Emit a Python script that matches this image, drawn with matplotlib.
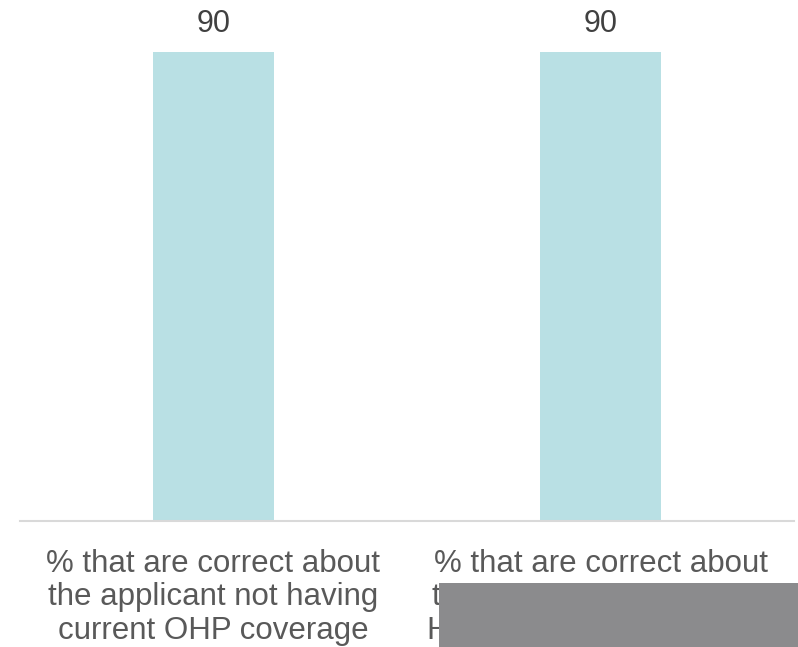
import matplotlib
matplotlib.use("Agg")
import matplotlib.pyplot as plt
from matplotlib.patches import Rectangle
from matplotlib.transforms import Bbox, TransformedBbox
from matplotlib.font_manager import FontProperties

categories = ["% that are correct about\nthe applicant not having\ncurrent OHP coverage",
              "% that are correct about\nthe applicant having any\nHealth plan coverage yet"]
values = [90, 90]

plt.rcParams['font.family'] = ['Liberation Sans', 'DejaVu Sans']

fig = plt.figure(figsize=(7.98, 6.47), dpi=100)
ax = fig.add_axes([20/798, 126/647, 774/798, 521/647])
x = list(range(len(categories)))
bars = ax.bar(x, values, width=0.3126, color="#b9e0e4", zorder=2)
ax.set_xlim(-0.5, 1.5)
ax.set_ylim(0, 100)
for xi, v in zip(x, values):
    ax.text(xi, v + 5.3, f"{v}", ha="center", va="center", fontsize=22, color="#404040")
ax.set_yticks([])
ax.set_xticks([])
for s in ["top", "right", "left"]:
    ax.spines[s].set_visible(False)
ax.spines["bottom"].set_color("#d9d9d9")
ax.spines["bottom"].set_linewidth(1.5)

# grey redaction box that covers part of the second label
bx, by = 439/798, 64/647
fig.patches.append(Rectangle((bx, 0), 1 - bx, by, transform=fig.transFigure,
                             facecolor="#8b8b8d", edgecolor="none", zorder=10))
clipbox = TransformedBbox(Bbox([[0, 0], [bx, 1]]), fig.transFigure)

fs, ls, pad = 22.5, 1.15, 20
renderer = fig.canvas.get_renderer()
fp = FontProperties(family=['Liberation Sans', 'DejaVu Sans'], size=fs)
_, lp_h, lp_d = renderer.get_text_width_height_descent("lp", fp, ismath=False)
step_pt = (lp_d + (lp_h - lp_d) * ls) * 72 / fig.dpi

lab_kw = dict(xycoords=("data", "axes fraction"), textcoords="offset points",
              ha="center", va="top", fontsize=fs, color="#595959",
              linespacing=ls, annotation_clip=False)
for xi, cat in zip(x, categories):
    if xi == 0:
        ax.annotate(cat, xy=(xi, 0), xytext=(0, -pad), **lab_kw)
    else:
        first, rest = cat.split("\n", 1)
        ax.annotate(first, xy=(xi, 0), xytext=(0, -pad), **lab_kw)
        t = ax.annotate(rest, xy=(xi, 0), xytext=(0, -pad - step_pt), **lab_kw)
        t.set_clip_on(True)
        t.set_clip_box(clipbox)

fig.savefig("out.png", dpi=100)
